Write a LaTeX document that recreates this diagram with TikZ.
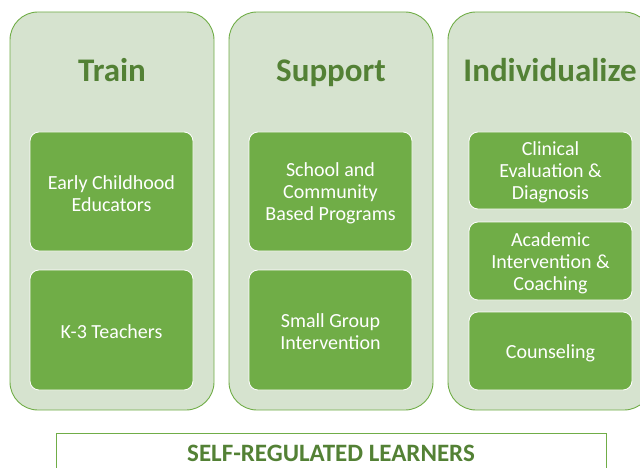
\documentclass[tikz,border=0pt]{standalone}
\usepackage{fontspec}
\setmainfont{Carlito}
\definecolor{panelfill}{HTML}{D6E3CF}
\definecolor{gborder}{HTML}{70AD47}
\definecolor{gdark}{HTML}{538135}
\begin{document}
\begin{tikzpicture}[x=1pt,y=-1pt,
  panel/.style={draw=gborder,line width=0.9pt,fill=panelfill,rounded corners=28pt},
  item/.style={draw=white,line width=0.8pt,fill=gborder,rounded corners=9pt},
  title/.style={font=\fontsize{33}{38}\selectfont\bfseries,text=gdark,anchor=base},
  itemtext/.style={font=\fontsize{20}{22}\selectfont,text=white,align=center,yshift=-2pt},
  base/.style={draw=gborder,line width=0.7pt,fill=white}]
\useasboundingbox (0,0) rectangle (640,468);
\clip (0,0) rectangle (640,468);
% panels
\draw[panel] (10,12) rectangle (214,410);
\draw[panel] (229,12) rectangle (433,410);
\draw[panel] (448,12) rectangle (652,410);
\node[title] (t1) at (112,82) {Train};
\node[title] (t2) at (331,82) {Support};
\node[title] (t3) at (550,82) {Individualize};
% items panel 1
\draw[item] (30,132) rectangle (193,251);
\node[itemtext] (a1) at (111.5,191.5) {Early Childhood\\Educators};
\draw[item] (30,270) rectangle (193,390);
\node[itemtext] (a2) at (111.5,330) {K-3 Teachers};
% items panel 2
\draw[item] (249,132) rectangle (412,251);
\node[itemtext] (b1) at (330.5,191.5) {School and\\Community\\Based Programs};
\draw[item] (249,270) rectangle (412,390);
\node[itemtext] (b2) at (330.5,330) {Small Group\\Intervention};
% items panel 3
\draw[item] (469,132) rectangle (632,209);
\node[itemtext] (c1) at (550.5,170.5) {Clinical\\Evaluation \&\\Diagnosis};
\draw[item] (469,222) rectangle (632,300);
\node[itemtext] (c2) at (550.5,261) {Academic\\Intervention \&\\Coaching};
\draw[item] (469,312) rectangle (632,390);
\node[itemtext] (c3) at (550.5,351) {Counseling};
% base
\draw[base] (56,433) rectangle (606,480);
\node[font=\fontsize{25}{28}\selectfont\bfseries,text=gdark,anchor=base] (s) at (331,461.5) {SELF-REGULATED LEARNERS};
\end{tikzpicture}
\end{document}
